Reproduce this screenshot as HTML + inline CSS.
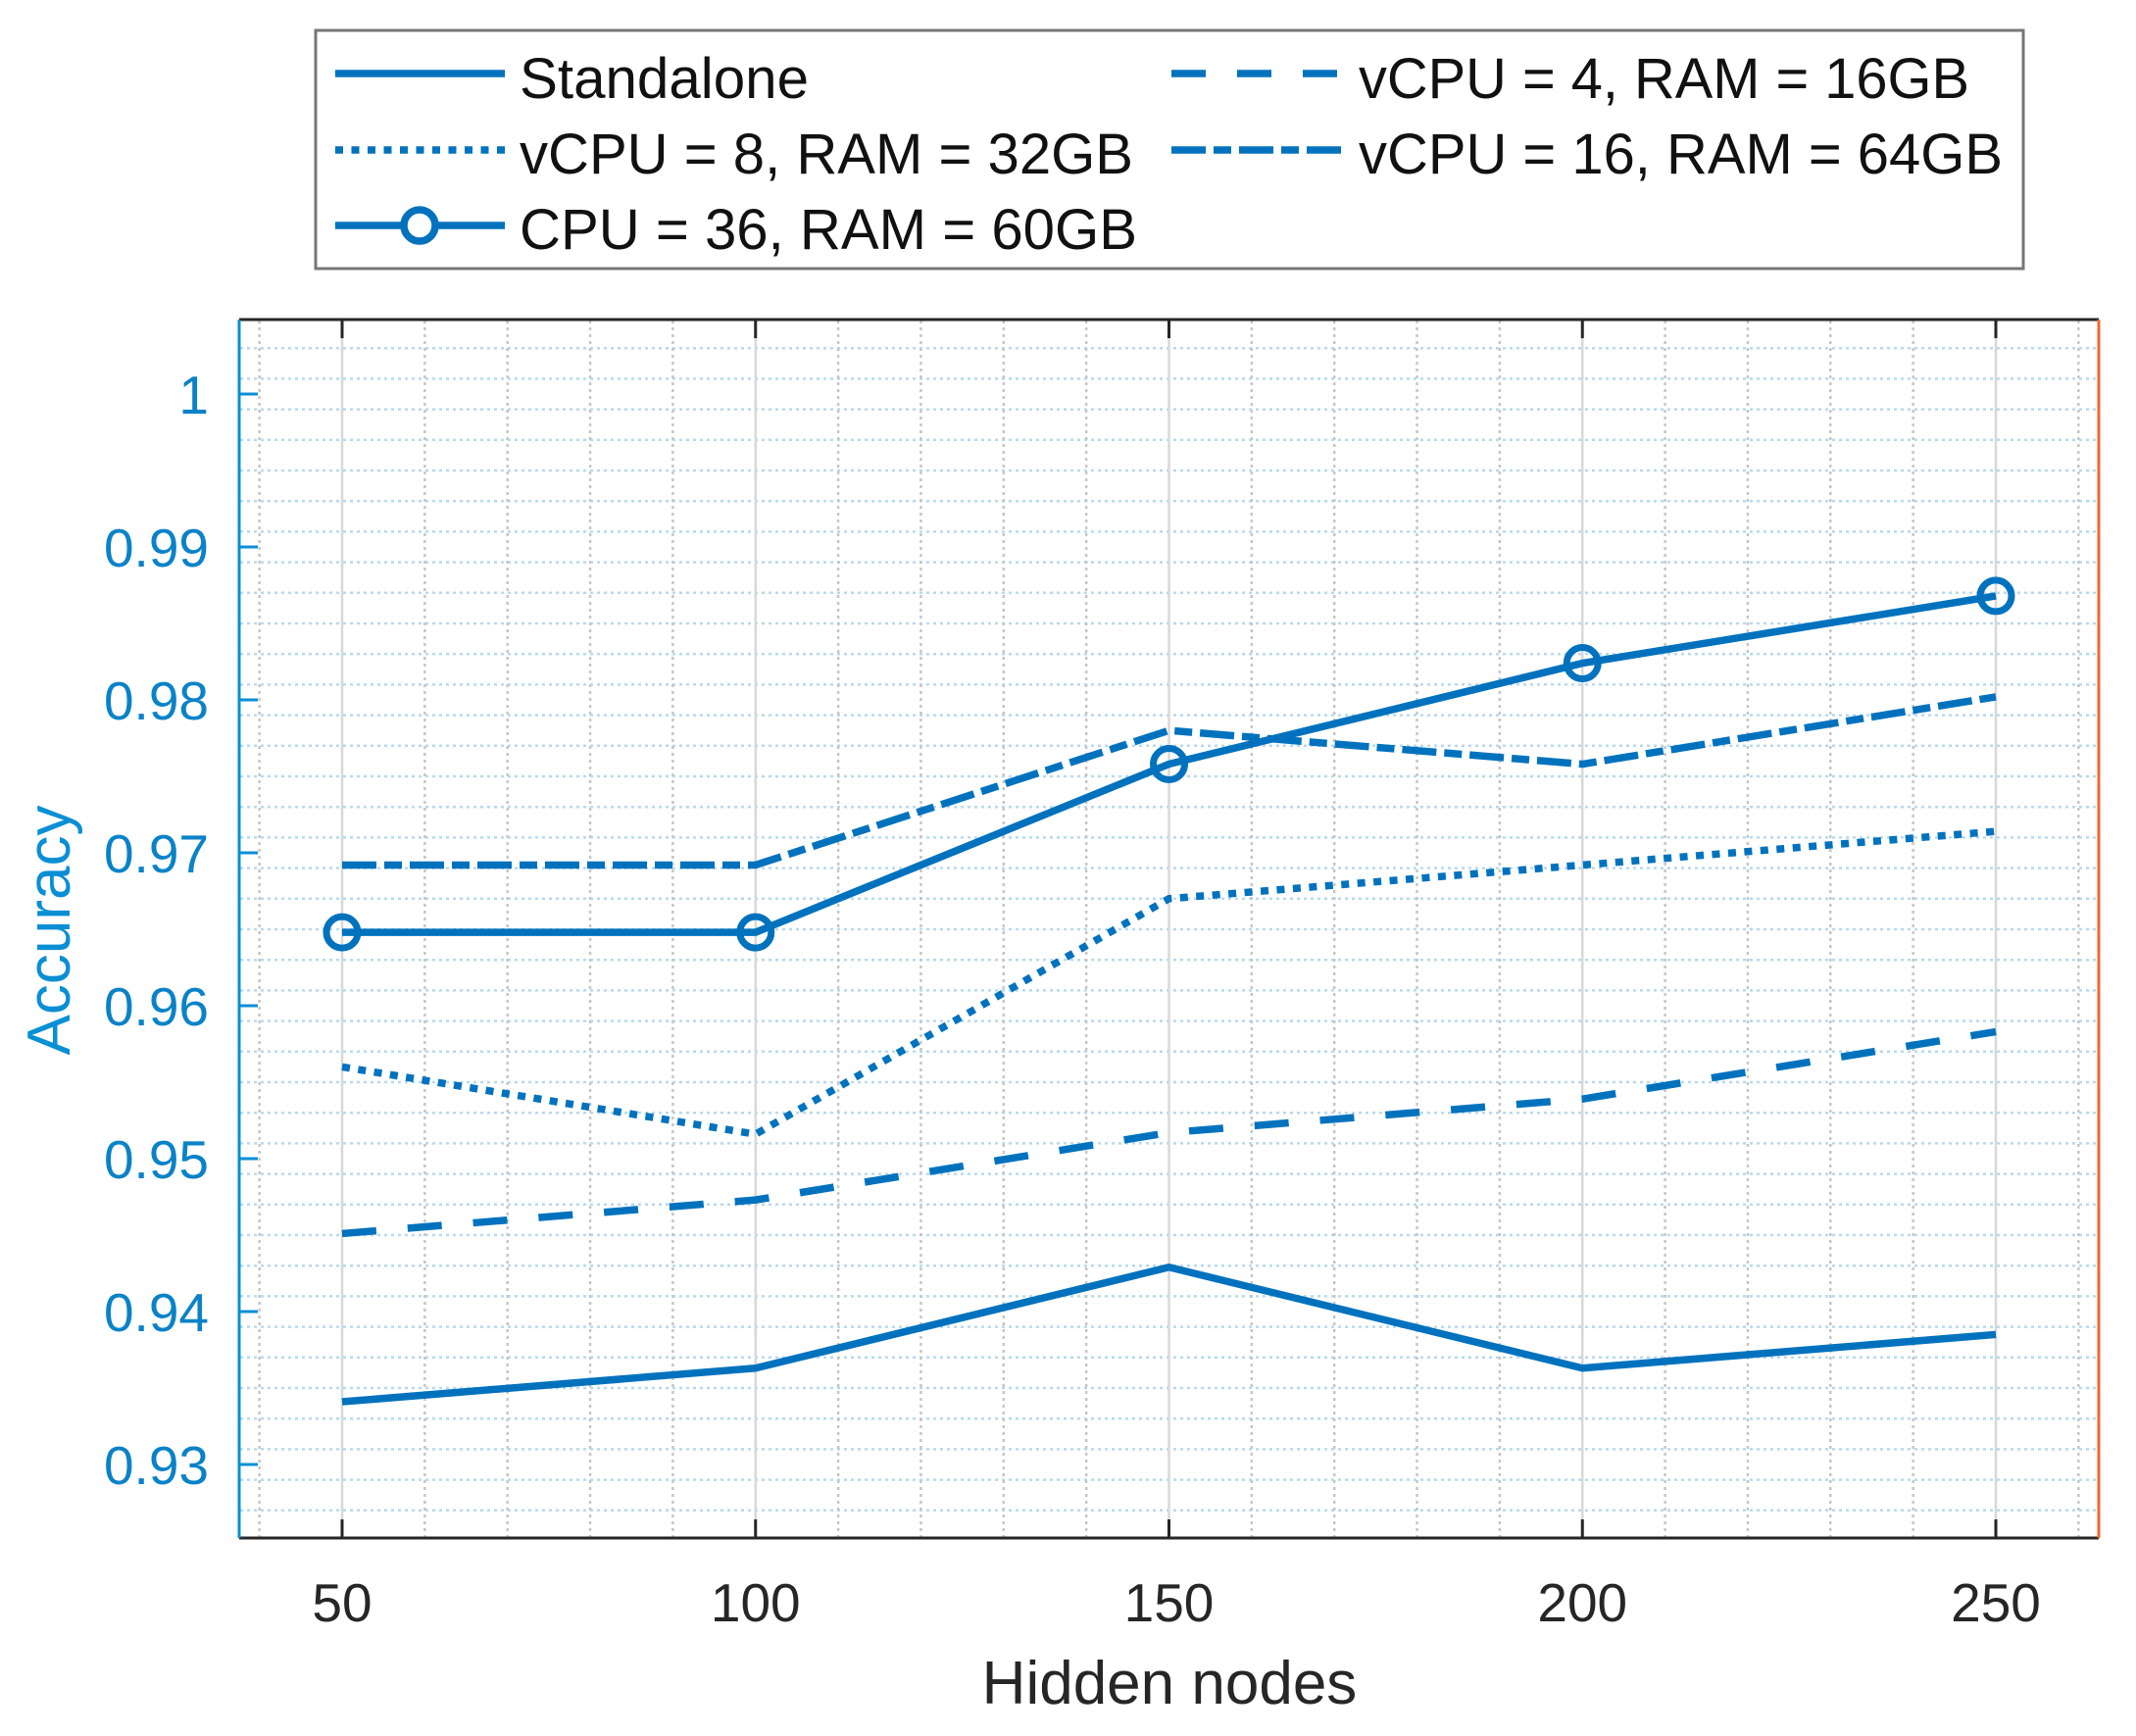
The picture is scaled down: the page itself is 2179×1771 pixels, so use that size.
<!DOCTYPE html>
<html><head><meta charset="utf-8"><style>
html,body{margin:0;padding:0;background:#fff;}
svg{display:block;}
</style></head><body>
<svg width="2179" height="1771" viewBox="0 0 2179 1771" xmlns="http://www.w3.org/2000/svg" font-family="Liberation Sans, Arial, sans-serif">
<rect width="2179" height="1771" fill="#fff"/>
<rect x="244" y="326" width="1897" height="1243" fill="#fff"/>
<g id="grid"></g>
<g id="series"></g>
<line x1="244" y1="326" x2="2141" y2="326" stroke="#262626" stroke-width="3"/>
<line x1="244" y1="1569" x2="2141" y2="1569" stroke="#262626" stroke-width="3"/>
<line x1="244" y1="326" x2="244" y2="1569" stroke="#0a8fd4" stroke-width="3"/>
<line x1="2141" y1="326" x2="2141" y2="1569" stroke="#f2682f" stroke-width="3"/>
<g id="ticks"></g>
<g id="labels" font-size="55"></g>
<text x="1193" y="1738" font-size="62" text-anchor="middle" fill="#262626">Hidden nodes</text>
<text transform="translate(71,949) rotate(-90)" font-size="62" text-anchor="middle" fill="#0a8fd4">Accuracy</text>
<rect x="322" y="31" width="1742" height="243" fill="#fff" stroke="#777" stroke-width="3"/>
<g stroke="#0072BD" stroke-width="7.5" fill="none">
<line x1="342" y1="75" x2="515" y2="75"/>
<line x1="342" y1="153" x2="515" y2="153" stroke-dasharray="8,8.5"/>
<line x1="342" y1="230" x2="515" y2="230"/>
<circle cx="428" cy="230" r="16" fill="#fff"/>
<line x1="1195" y1="75" x2="1368" y2="75" stroke-dasharray="35,32"/>
<line x1="1195" y1="153" x2="1368" y2="153" stroke-dasharray="35,8,18,8"/>
</g>
<g font-size="58" fill="#111" lengthAdjust="spacingAndGlyphs">
<text x="530" y="100" textLength="295" lengthAdjust="spacingAndGlyphs">Standalone</text>
<text x="530" y="177" textLength="626" lengthAdjust="spacingAndGlyphs">vCPU = 8, RAM = 32GB</text>
<text x="530" y="254" textLength="630" lengthAdjust="spacingAndGlyphs">CPU = 36, RAM = 60GB</text>
<text x="1386" y="100" textLength="623" lengthAdjust="spacingAndGlyphs">vCPU = 4, RAM = 16GB</text>
<text x="1386" y="177" textLength="657" lengthAdjust="spacingAndGlyphs">vCPU = 16, RAM = 64GB</text>
</g>
<script>
(function(){
var NS="http://www.w3.org/2000/svg";
function Y(v){return 402+(1-v)*15600;}
function X(n){return 349+(n-50)*8.435;}
function el(p,tag,a){var e=document.createElementNS(NS,tag);for(var k in a)e.setAttribute(k,a[k]);p.appendChild(e);return e;}
var g=document.getElementById('grid');
for(var i=0;i<=40;i++){var v=0.925+i*0.002;var y=Y(v);if(y<327||y>1568)continue;
 var major=Math.abs(Math.round(v*100)-v*100)<1e-6;
 if(major) el(g,'line',{x1:245,x2:2140,y1:y,y2:y,stroke:'#d3e8f5','stroke-width':3});
 else el(g,'line',{x1:245,x2:2140,y1:y,y2:y,stroke:'#b8d9ef','stroke-width':2.5,'stroke-dasharray':'3,4'});}
for(var n=40;n<=260;n+=10){var x=X(n);if(x<245||x>2140)continue;
 if(n%50==0) el(g,'line',{x1:x,x2:x,y1:327,y2:1568,stroke:'#d8d8d8','stroke-width':2.5});
 else el(g,'line',{x1:x,x2:x,y1:327,y2:1568,stroke:'#c6c6c6','stroke-width':2.5,'stroke-dasharray':'3,4'});}
var t=document.getElementById('ticks'),L=document.getElementById('labels');
for(var n=50;n<=250;n+=50){var x=X(n);
 el(t,'line',{x1:x,x2:x,y1:1569,y2:1550,stroke:'#262626','stroke-width':3});
 el(t,'line',{x1:x,x2:x,y1:326,y2:345,stroke:'#262626','stroke-width':3});
 var tx=el(L,'text',{x:x,y:1654,'text-anchor':'middle',fill:'#262626'});tx.textContent=String(n);}
var yl=['0.93','0.94','0.95','0.96','0.97','0.98','0.99','1'];
for(var i=0;i<8;i++){var v=0.93+i*0.01;var y=Y(v);
 el(t,'line',{x1:244,x2:263,y1:y,y2:y,stroke:'#0a8fd4','stroke-width':3});
 var tx=el(L,'text',{x:213,y:y+20,'text-anchor':'end',fill:'#0a82c8'});tx.textContent=yl[i];}
var xs=[50,100,150,200,250];
var S=[
 {d:[0.9341,0.9363,0.9429,0.9363,0.9385],da:null},
 {d:[0.9451,0.9473,0.9517,0.9539,0.9583],da:'35,32'},
 {d:[0.956,0.9516,0.967,0.9692,0.9714],da:'8,8.5'},
 {d:[0.9692,0.9692,0.978,0.9758,0.9802],da:'35,8,18,8'},
 {d:[0.9648,0.9648,0.9758,0.9824,0.9868],da:null,m:true}];
var sg=document.getElementById('series');
S.forEach(function(s){var pts=s.d.map(function(v,i){return X(xs[i])+','+Y(v);}).join(' ');
 var a={points:pts,fill:'none',stroke:'#0072BD','stroke-width':7.5,'stroke-linejoin':'round'};
 if(s.da)a['stroke-dasharray']=s.da;
 el(sg,'polyline',a);
 if(s.m)s.d.forEach(function(v,i){el(sg,'circle',{cx:X(xs[i]),cy:Y(v),r:16,fill:'none',stroke:'#0072BD','stroke-width':7});});
});
})();
</script>
</svg>
</body></html>
